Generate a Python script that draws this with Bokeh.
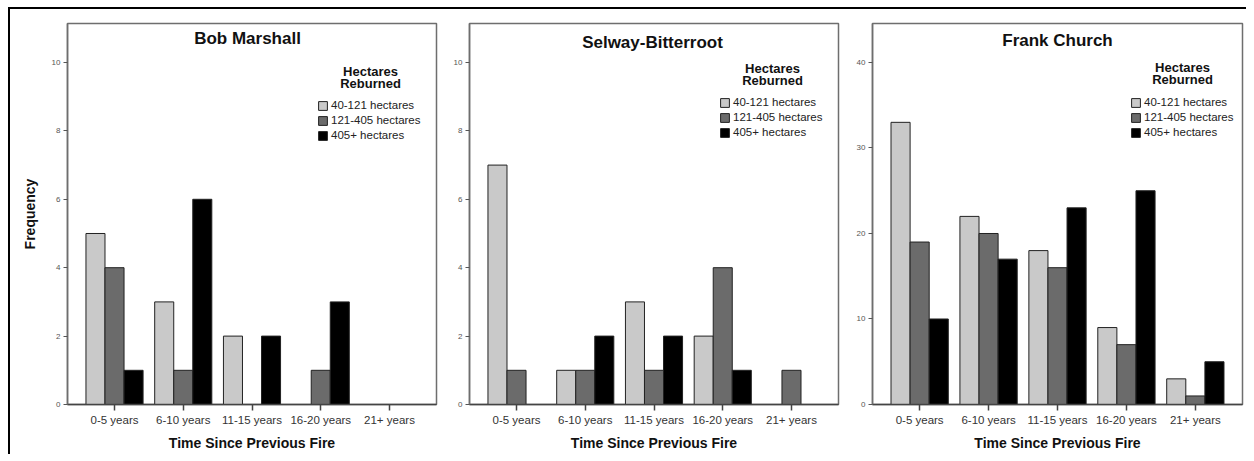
from bokeh.plotting import figure
from bokeh.models import ColumnDataSource, Label, Legend, LegendItem, FixedTicker, Range1d
from bokeh.layouts import row
from bokeh.embed import file_html
from bokeh.resources import INLINE

# ---- data ----
categories = ["0-5 years", "6-10 years", "11-15 years", "16-20 years", "21+ years"]
size_classes = ["40-121 hectares", "121-405 hectares", "405+ hectares"]
panel_titles = ["Bob Marshall", "Selway-Bitterroot", "Frank Church"]

bob_40_121 = [5, 3, 2, 0, 0]
bob_121_405 = [4, 1, 0, 1, 0]
bob_405_plus = [1, 6, 2, 3, 0]

selway_40_121 = [7, 1, 3, 2, 0]
selway_121_405 = [1, 1, 1, 4, 1]
selway_405_plus = [0, 2, 2, 1, 0]

frank_40_121 = [33, 22, 18, 9, 3]
frank_121_405 = [19, 20, 16, 7, 1]
frank_405_plus = [10, 17, 23, 25, 5]

y_ticks_small = [0, 2, 4, 6, 8, 10]
y_ticks_large = [0, 10, 20, 30, 40]

# ---- style ----
FONT = "Liberation Sans"
fills = ["#c9c9c9", "#6b6b6b", "#000000"]
FRAME_W, FRAME_H = 369, 381
X0, X1 = -0.684, 4.684
offsets = [-0.277, 0.0, 0.277]
bar_w = 0.277


def make_panel(title, series, ymax, yticks, bl, br, ylabel, title_pos, legtitle_pos, leg_pos, fw=FRAME_W):
    p = figure(frame_width=fw, frame_height=FRAME_H,
               x_range=Range1d(X0, X1), y_range=Range1d(0, ymax),
               output_backend="svg", toolbar_location=None,
               min_border_left=bl, min_border_right=br,
               min_border_top=14, min_border_bottom=50,
               background_fill_color="white", border_fill_color="white")
    p.xgrid.visible = False
    p.ygrid.visible = False
    p.outline_line_color = "#6e6e6e"
    p.outline_line_width = 1.5

    rends = []
    for k, vals in enumerate(series):
        xs = [i + offsets[k] for i, v in enumerate(vals) if v > 0]
        tops = [v for v in vals if v > 0]
        src = ColumnDataSource(dict(x=xs, top=tops))
        r = p.vbar(x="x", top="top", width=bar_w, bottom=0, source=src,
                   fill_color=fills[k], line_color="#222222", line_width=1)
        rends.append(r)

    xa = p.xaxis[0]
    xa.ticker = FixedTicker(ticks=list(range(len(categories))))
    xa.major_label_overrides = {i: c for i, c in enumerate(categories)}
    xa.major_tick_out = 6
    xa.major_tick_in = 0
    xa.minor_tick_out = 0
    xa.minor_tick_in = 0
    xa.axis_line_color = "#444444"
    xa.axis_line_width = 1.5
    xa.major_tick_line_color = "#444444"
    xa.major_tick_line_width = 1.5
    xa.major_label_text_font = FONT
    xa.major_label_text_font_size = "11.5px"
    xa.major_label_text_color = "#333333"
    xa.major_label_standoff = 3
    xa.axis_label = "Time Since Previous Fire"
    xa.axis_label_text_font = FONT
    xa.axis_label_text_font_style = "bold"
    xa.axis_label_text_font_size = "14px"
    xa.axis_label_text_color = "#111111"
    xa.axis_label_standoff = 6

    ya = p.yaxis[0]
    ya.ticker = FixedTicker(ticks=yticks)
    ya.major_tick_out = 4
    ya.major_tick_in = 0
    ya.minor_tick_out = 0
    ya.minor_tick_in = 0
    ya.axis_line_color = "#6e6e6e"
    ya.axis_line_width = 1.5
    ya.major_tick_line_color = "#555555"
    ya.major_label_text_font = FONT
    ya.major_label_text_font_size = "8px"
    ya.major_label_text_color = "#555555"
    ya.major_label_standoff = 3
    if ylabel:
        ya.axis_label = ylabel
        ya.axis_label_text_font = FONT
        ya.axis_label_text_font_style = "bold"
        ya.axis_label_text_font_size = "14px"
        ya.axis_label_text_color = "#111111"
        ya.axis_label_standoff = 11

    def xd(px):
        return X0 + px * (X1 - X0) / fw

    def yd(px_from_top):
        return ymax * (1 - px_from_top / FRAME_H)

    p.add_layout(Label(x=xd(title_pos[0]), y=yd(title_pos[1]), text=title,
                       text_font=FONT, text_font_style="bold", text_font_size="17px",
                       text_align="center", text_baseline="middle", text_color="#111111"))
    p.add_layout(Label(x=xd(legtitle_pos[0]), y=yd(legtitle_pos[1]), text="Hectares",
                       text_font=FONT, text_font_style="bold", text_font_size="13px",
                       text_align="center", text_baseline="middle", text_color="#111111"))
    p.add_layout(Label(x=xd(legtitle_pos[0]), y=yd(legtitle_pos[1] + 12), text="Reburned",
                       text_font=FONT, text_font_style="bold", text_font_size="13px",
                       text_align="center", text_baseline="middle", text_color="#111111"))

    items = [LegendItem(label=size_classes[k], renderers=[rends[k]]) for k in range(3)]
    leg = Legend(items=items, location=leg_pos, glyph_width=11, glyph_height=11,
                 label_height=11, spacing=3, padding=0, margin=0,
                 border_line_color=None, background_fill_alpha=0,
                 label_text_font=FONT, label_text_font_size="11.5px",
                 label_text_color="#222222", label_standoff=3)
    p.add_layout(leg, "center")
    return p


p1 = make_panel(panel_titles[0], [bob_40_121, bob_121_405, bob_405_plus], 11.14, y_ticks_small,
                57, 12, "Frequency", (180, 15), (303, 48), (250, 263))
p2 = make_panel(panel_titles[1], [selway_40_121, selway_121_405, selway_405_plus], 11.14, y_ticks_small,
                21, 12, None, (183, 19), (303, 45), (250, 266))
p3 = make_panel(panel_titles[2], [frank_40_121, frank_121_405, frank_405_plus], 44.56, y_ticks_large,
                22, 4, None, (185, 17), (310, 44), (258, 266), fw=370)

layout = row(p1, p2, p3, margin=(7, 0, 0, 8),
             styles={"border-top": "2px solid black", "border-left": "2px solid black"})

open("out.html", "w").write(file_html(layout, INLINE))
